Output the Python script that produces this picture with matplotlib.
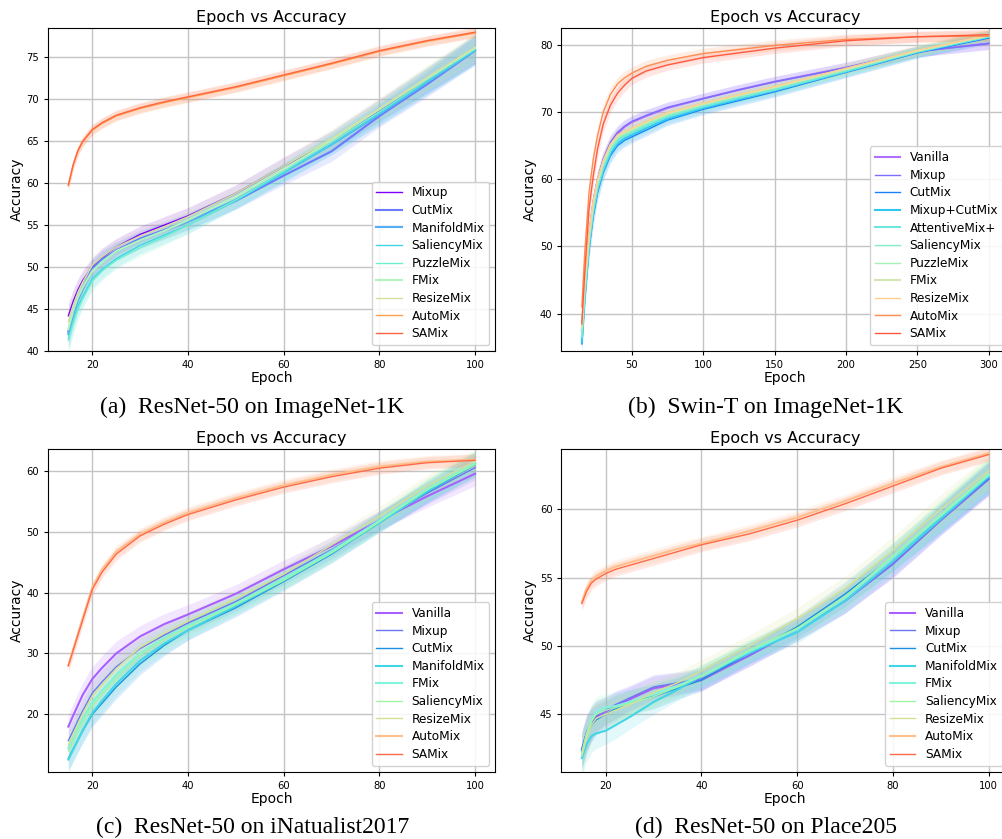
import numpy as np
import matplotlib
matplotlib.use("Agg")
import matplotlib.pyplot as plt

# ---------------- data ----------------
epochs_100 = [15, 16, 17, 18, 20, 22, 25, 30, 35, 40, 50, 60, 70, 80, 90, 100]
epochs_300 = [15, 17, 20, 23, 26, 30, 35, 40, 45, 50, 60, 75, 100, 125, 150, 200, 250, 300]

# (a) ResNet-50 on ImageNet-1K
a_names = ["Mixup", "CutMix", "ManifoldMix", "SaliencyMix", "PuzzleMix", "FMix",
           "ResizeMix", "AutoMix", "SAMix"]
a_mixup = [44.2, 45.9, 47.3, 48.4, 50.0, 51.1, 52.4, 53.9, 55.0, 56.1, 58.8, 62.0, 65.0, 68.7, 72.3, 76.0]
a_cutmix = [42.3, 44.6, 46.3, 47.6, 49.8, 50.9, 52.0, 53.4, 54.4, 55.5, 57.9, 60.9, 63.8, 68.0, 71.8, 75.8]
a_manifoldmix = [42.0, 44.3, 46.0, 47.3, 49.6, 50.7, 51.9, 53.2, 54.3, 55.4, 58.0, 61.3, 64.6, 68.2, 72.0, 75.9]
a_saliencymix = [41.5, 43.6, 45.3, 46.5, 48.6, 49.7, 51.0, 52.6, 53.8, 55.0, 57.9, 61.2, 64.6, 68.3, 72.1, 75.8]
a_puzzlemix = [41.3, 43.3, 45.0, 46.2, 48.3, 49.5, 50.8, 52.3, 53.6, 55.0, 58.0, 61.4, 64.9, 68.5, 72.3, 76.0]
a_fmix = [42.6, 44.8, 46.4, 47.6, 49.5, 50.6, 51.9, 53.2, 54.3, 55.6, 58.4, 61.7, 65.1, 68.8, 72.5, 76.1]
a_resizemix = [43.5, 45.4, 47.0, 48.2, 50.2, 51.2, 52.4, 53.7, 54.8, 56.0, 58.8, 62.0, 65.3, 68.9, 72.6, 76.2]
a_automix = [59.7, 62.1, 63.8, 64.9, 66.3, 67.1, 68.0, 68.9, 69.6, 70.2, 71.4, 72.8, 74.2, 75.7, 76.9, 77.9]
a_samix = [59.8, 62.2, 63.9, 65.0, 66.4, 67.2, 68.1, 69.0, 69.7, 70.3, 71.5, 72.9, 74.3, 75.8, 77.0, 78.0]
a_std_low = [1.5, 1.4, 1.3, 1.2, 1.1, 1.1, 1.0, 1.0, 1.0, 1.0, 1.0, 1.1, 1.2, 1.3, 1.5, 1.7]
a_std_top = [0.6, 0.6, 0.6, 0.6, 0.6, 0.6, 0.6, 0.6, 0.6, 0.6, 0.6, 0.6, 0.6, 0.6, 0.6, 0.6]

# (b) Swin-T on ImageNet-1K
b_names = ["Vanilla", "Mixup", "CutMix", "Mixup+CutMix", "AttentiveMix+", "SaliencyMix",
           "PuzzleMix", "FMix", "ResizeMix", "AutoMix", "SAMix"]
b_vanilla = [37.5, 44.0, 51.5, 56.5, 59.8, 62.8, 65.3, 66.8, 67.8, 68.5, 69.4, 70.6, 72.0, 73.3, 74.5, 76.6, 79.0, 80.2]
b_mixup = [37.8, 44.3, 51.8, 56.8, 60.0, 63.0, 65.5, 67.0, 67.9, 68.6, 69.5, 70.7, 72.0, 73.3, 74.5, 76.6, 79.0, 80.2]
b_cutmix = [35.5, 42.0, 49.5, 54.5, 58.0, 61.0, 63.5, 65.0, 65.8, 66.3, 67.3, 68.8, 70.4, 71.7, 73.0, 75.9, 78.8, 81.0]
b_mixup_cutmix = [35.8, 42.5, 50.0, 55.0, 58.4, 61.3, 63.8, 65.3, 66.1, 66.6, 67.6, 69.0, 70.6, 71.9, 73.2, 76.0, 78.9, 81.2]
b_attentivemix = [36.5, 43.0, 50.5, 55.5, 58.8, 61.7, 64.2, 65.7, 66.4, 66.9, 67.9, 69.3, 70.8, 72.1, 73.3, 76.1, 79.0, 81.2]
b_saliencymix = [37.0, 43.5, 50.8, 55.8, 59.1, 62.0, 64.5, 66.0, 66.6, 67.1, 68.1, 69.5, 71.0, 72.3, 73.5, 76.2, 79.0, 81.3]
b_puzzlemix = [37.5, 44.0, 51.2, 56.1, 59.4, 62.2, 64.7, 66.2, 66.8, 67.3, 68.3, 69.6, 71.1, 72.4, 73.6, 76.3, 79.1, 81.3]
b_fmix = [38.0, 44.5, 51.5, 56.4, 59.7, 62.5, 65.0, 66.4, 67.0, 67.5, 68.5, 69.8, 71.2, 72.5, 73.7, 76.4, 79.1, 81.4]
b_resizemix = [38.2, 44.8, 51.8, 56.7, 60.0, 62.8, 65.2, 66.6, 67.1, 67.6, 68.6, 69.9, 71.3, 72.6, 73.8, 76.5, 79.2, 81.4]
b_automix = [41.0, 49.0, 58.0, 63.0, 66.5, 70.0, 72.6, 74.2, 75.1, 75.8, 76.8, 77.7, 78.7, 79.3, 79.9, 80.8, 81.2, 81.3]
b_samix = [38.5, 46.0, 55.5, 60.5, 64.5, 68.2, 71.0, 72.8, 74.0, 75.0, 76.1, 77.0, 78.1, 78.8, 79.5, 80.6, 81.2, 81.5]
b_std_low = [1.5, 1.5, 1.5, 1.4, 1.3, 1.2, 1.1, 1.0, 1.0, 0.9, 0.9, 0.8, 0.8, 0.8, 0.8, 0.8, 0.8, 0.9]
b_std_top = [1.5, 1.5, 1.5, 1.4, 1.3, 1.2, 1.1, 1.0, 1.0, 0.9, 0.9, 0.8, 0.8, 0.8, 0.8, 0.8, 0.8, 0.8]

# (c) ResNet-50 on iNatualist2017
c_names = ["Vanilla", "Mixup", "CutMix", "ManifoldMix", "FMix", "SaliencyMix",
           "ResizeMix", "AutoMix", "SAMix"]
c_vanilla = [18.0, 19.8, 21.5, 23.2, 25.8, 27.6, 30.0, 32.8, 34.8, 36.4, 39.8, 43.8, 47.6, 51.8, 55.8, 59.5]
c_mixup = [15.7, 17.3, 19.0, 20.6, 23.5, 25.3, 27.8, 30.8, 33.0, 35.0, 38.5, 42.8, 47.0, 51.8, 56.3, 60.5]
c_cutmix = [12.8, 14.3, 15.8, 17.3, 20.0, 21.8, 24.5, 28.3, 31.3, 33.8, 37.5, 41.8, 46.3, 51.5, 56.5, 61.0]
c_manifoldmix = [12.6, 14.2, 15.8, 17.4, 20.2, 22.2, 25.0, 28.8, 31.6, 33.8, 37.8, 42.0, 46.5, 51.4, 56.6, 61.2]
c_fmix = [14.5, 16.2, 17.8, 19.3, 22.0, 23.9, 26.5, 30.0, 32.5, 34.5, 38.2, 42.3, 46.8, 51.8, 57.0, 61.3]
c_saliencymix = [14.0, 15.7, 17.3, 18.8, 21.5, 23.4, 26.0, 29.8, 32.3, 34.3, 38.0, 42.0, 46.5, 51.6, 56.9, 61.0]
c_resizemix = [15.0, 16.7, 18.4, 20.1, 23.0, 24.8, 27.5, 31.0, 33.3, 35.3, 39.0, 43.0, 47.8, 52.5, 57.5, 61.5]
c_automix = [28.0, 30.6, 33.2, 35.8, 40.8, 43.7, 46.7, 49.6, 51.5, 53.1, 55.5, 57.6, 59.3, 60.7, 61.5, 61.8]
c_samix = [28.0, 30.5, 33.0, 35.5, 40.5, 43.3, 46.3, 49.3, 51.2, 52.8, 55.2, 57.3, 59.0, 60.4, 61.3, 61.7]
c_std_low = [2.0, 2.0, 2.0, 2.0, 2.0, 2.0, 2.0, 1.8, 1.7, 1.6, 1.5, 1.5, 1.5, 1.6, 1.8, 2.0]
c_std_top = [1.0, 1.0, 1.0, 1.0, 1.0, 1.0, 1.0, 1.0, 1.0, 1.0, 1.0, 1.0, 1.0, 1.0, 1.0, 1.0]

# (d) ResNet-50 on Place205
d_names = ["Vanilla", "Mixup", "CutMix", "ManifoldMix", "FMix", "SaliencyMix",
           "ResizeMix", "AutoMix", "SAMix"]
d_vanilla = [42.4, 43.6, 44.3, 44.8, 45.2, 45.6, 46.1, 46.9, 47.2, 47.5, 49.3, 51.2, 53.3, 56.0, 59.2, 62.2]
d_mixup = [42.5, 43.7, 44.4, 44.9, 45.3, 45.7, 46.2, 47.0, 47.3, 47.6, 49.3, 51.2, 53.3, 56.0, 59.2, 62.2]
d_cutmix = [42.3, 43.5, 44.2, 44.6, 45.0, 45.4, 45.9, 46.3, 46.9, 47.5, 49.5, 51.4, 53.8, 56.5, 59.4, 62.3]
d_manifoldmix = [41.8, 42.8, 43.4, 43.6, 43.8, 44.2, 44.8, 45.9, 46.8, 47.8, 49.5, 51.0, 53.3, 56.2, 59.3, 62.4]
d_fmix = [42.0, 43.5, 44.5, 45.2, 45.5, 45.6, 45.9, 46.5, 47.1, 47.8, 49.6, 51.2, 53.5, 56.5, 59.5, 62.5]
d_saliencymix = [42.2, 43.6, 44.5, 45.0, 45.3, 45.5, 45.8, 46.3, 47.0, 47.8, 49.7, 51.3, 53.6, 56.6, 59.6, 62.6]
d_resizemix = [42.0, 43.3, 44.2, 44.7, 45.0, 45.3, 45.7, 46.6, 47.3, 48.2, 50.0, 52.0, 54.2, 57.0, 60.0, 62.8]
d_automix = [53.2, 54.2, 54.8, 55.1, 55.5, 55.8, 56.1, 56.6, 57.1, 57.5, 58.4, 59.4, 60.6, 61.9, 63.1, 64.1]
d_samix = [53.1, 54.0, 54.6, 54.9, 55.3, 55.6, 55.9, 56.4, 56.9, 57.4, 58.2, 59.2, 60.4, 61.7, 63.0, 64.0]
d_std_low = [1.3, 1.3, 1.2, 1.1, 1.0, 1.0, 0.9, 0.9, 0.8, 0.8, 0.8, 0.8, 0.9, 1.0, 1.1, 1.2]
d_std_top = [0.5, 0.5, 0.5, 0.5, 0.5, 0.5, 0.5, 0.5, 0.5, 0.5, 0.5, 0.5, 0.5, 0.5, 0.5, 0.5]

captions = ["(a)  ResNet-50 on ImageNet-1K", "(b)  Swin-T on ImageNet-1K",
            "(c)  ResNet-50 on iNatualist2017", "(d)  ResNet-50 on Place205"]

# ---------------- style ----------------
a_colors = ["#8000ff", "#6a7bff", "#55aef5", "#40d4e6", "#6cf0cf", "#b4f3bd",
            "#d6e09c", "#ffa050", "#ff6540"]
b_colors = ["#b070ff", "#7a70ff", "#1a80ff", "#30c8f0", "#70e6de", "#80f0c8",
            "#a6f2b4", "#d2e8b0", "#ffcf90", "#ff8c50", "#ff5a40"]
cd_colors = ["#a860ff", "#6a78f0", "#1a90e4", "#40d6e6", "#80f4dc", "#a0f6a6",
             "#d6e092", "#ffbf8c", "#ff6a48"]
thick = {"a": {"CutMix", "ManifoldMix", "FMix"},
         "b": {"Vanilla", "Mixup+CutMix", "AttentiveMix+", "FMix"},
         "c": {"Vanilla", "ManifoldMix", "FMix", "AutoMix"},
         "d": {"Vanilla", "ManifoldMix", "FMix", "AutoMix"}}

W, H = 1003, 839
fig = plt.figure(figsize=(W / 100, H / 100), dpi=100)


def fr(l, t, r, b):
    return [l / W, 1 - b / H, (r - l) / W, (b - t) / H]


panels = [
    dict(key="a", pos=fr(48, 28, 495.4, 351), x=epochs_100, names=a_names,
         ys=[a_mixup, a_cutmix, a_manifoldmix, a_saliencymix, a_puzzlemix, a_fmix,
             a_resizemix, a_automix, a_samix],
         colors=a_colors, sl=a_std_low, st=a_std_top, xlim=(10.75, 104.25), ylim=(40, 78.5),
         xt=[20, 40, 60, 80, 100], yt=[40, 45, 50, 55, 60, 65, 70, 75], cpos=(252, 407)),
    dict(key="b", pos=fr(561.5, 28, 1009, 351), x=epochs_300, names=b_names,
         ys=[b_vanilla, b_mixup, b_cutmix, b_mixup_cutmix, b_attentivemix, b_saliencymix,
             b_puzzlemix, b_fmix, b_resizemix, b_automix, b_samix],
         colors=b_colors, sl=b_std_low, st=b_std_top, xlim=(0.75, 314.25), ylim=(34.45, 82.5),
         xt=[50, 100, 150, 200, 250, 300], yt=[40, 50, 60, 70, 80], cpos=(766, 407)),
    dict(key="c", pos=fr(48, 448.7, 495.4, 771.7), x=epochs_100, names=c_names,
         ys=[c_vanilla, c_mixup, c_cutmix, c_manifoldmix, c_fmix, c_saliencymix,
             c_resizemix, c_automix, c_samix],
         colors=cd_colors, sl=c_std_low, st=c_std_top, xlim=(10.75, 104.25), ylim=(10.6, 63.6),
         xt=[20, 40, 60, 80, 100], yt=[20, 30, 40, 50, 60], cpos=(253, 827)),
    dict(key="d", pos=fr(561.5, 448.7, 1009, 771.7), x=epochs_100, names=d_names,
         ys=[d_vanilla, d_mixup, d_cutmix, d_manifoldmix, d_fmix, d_saliencymix,
             d_resizemix, d_automix, d_samix],
         colors=cd_colors, sl=d_std_low, st=d_std_top, xlim=(10.75, 104.25), ylim=(40.8, 64.43),
         xt=[20, 40, 60, 80, 100], yt=[45, 50, 55, 60], cpos=(766, 827)),
]

for p, cap in zip(panels, captions):
    ax = fig.add_axes(p["pos"])
    x = np.array(p["x"], dtype=float)
    for name, vals, col in zip(p["names"], p["ys"], p["colors"]):
        y = np.array(vals, dtype=float)
        s = np.array(p["st"] if name in ("AutoMix", "SAMix") else p["sl"], dtype=float)
        ax.fill_between(x, y - s, y + s, color=col, alpha=0.15, lw=0)
        lw = 1.5 if name in thick[p["key"]] else 1.0
        ax.plot(x, y, color=col, lw=lw, label=name)
    ax.set_xlim(*p["xlim"])
    ax.set_ylim(*p["ylim"])
    ax.set_xticks(p["xt"])
    ax.set_yticks(p["yt"])
    ax.grid(True, color="#c4c4c4", lw=1.0)
    ax.set_axisbelow(True)
    ax.tick_params(labelsize=7.2, length=3, width=0.8)
    ax.set_title("Epoch vs Accuracy", fontsize=11.5, pad=4)
    ax.set_xlabel("Epoch", fontsize=10, labelpad=1)
    ax.set_ylabel("Accuracy", fontsize=10, labelpad=2)
    ax.legend(loc="lower right", fontsize=8.7, labelspacing=0.38, handlelength=2.1,
              borderaxespad=0.5, framealpha=0.85)
    cx, cy = p["cpos"]
    fig.text(cx / W, 1 - cy / H, cap, fontsize=17, family="Liberation Serif",
             ha="center", va="center")

fig.savefig("out.png", dpi=100)
